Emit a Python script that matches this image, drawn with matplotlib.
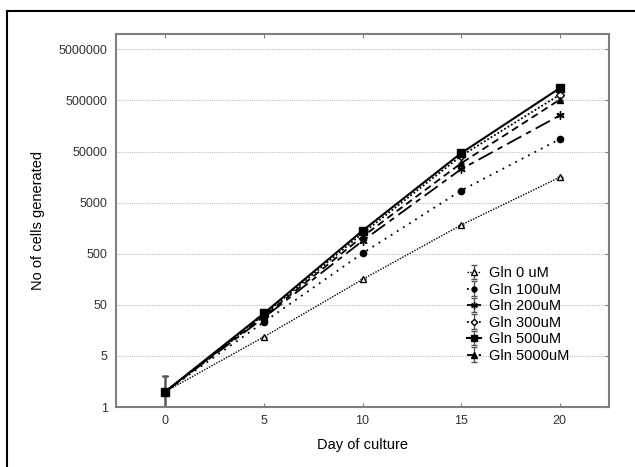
import matplotlib
matplotlib.use('Agg')
import matplotlib.pyplot as plt
import numpy as np

plt.rcParams['font.family'] = ['Liberation Sans', 'DejaVu Sans']

days = [0, 5, 10, 15, 20]
labels = ['Gln 0 uM', 'Gln 100uM', 'Gln 200uM', 'Gln 300uM', 'Gln 500uM', 'Gln 5000uM']

gln_0 = [1, 11.8, 157, 1820, 15700]
gln_100 = [1, 23, 509, 8600, 87500]
gln_200 = [1, 28, 890, 22600, 254000]
gln_300 = [1, 32, 1250, 41000, 645000]
gln_500 = [1, 34, 1409, 46500, 870000]
gln_5000 = [1, 30, 1080, 29500, 517000]

# error bars; only day 0 is visible
err_up = [1.0, 0, 0, 0, 0]
err_lo = [0.99, 0, 0, 0, 0]

ytick_vals = [0.5, 5, 50, 500, 5000, 50000, 500000, 5000000]
ytick_labels = ['1', '5', '50', '500', '5000', '50000', '500000', '5000000']

series = [gln_0, gln_100, gln_200, gln_300, gln_500, gln_5000]
styles = [
    dict(marker='^', mfc='white', ms=5, ls=(0, (1, 1)), lw=1.0),
    dict(marker='o', mfc='black', ms=4.5, ls=(0, (1, 3)), lw=1.3),
    dict(marker=(6, 2, 0), mfc='black', ms=6, ls=(0, (9, 3, 3, 3)), lw=1.3),
    dict(marker='D', mfc='white', ms=4, ls=(0, (1, 1.2)), lw=1.3),
    dict(marker='s', mfc='black', ms=6, ls='-', lw=1.5),
    dict(marker='^', mfc='black', ms=5, ls=(0, (4, 2.5)), lw=1.3),
]

fig = plt.figure(figsize=(6.35, 4.67), dpi=100)
ax = fig.add_axes([116/635, 1-407/467, (609-116)/635, (407-34)/467])

for vals, lab, st in zip(series, labels, styles):
    ax.errorbar(days, vals, yerr=[err_lo, err_up], color='black', ecolor='#555555',
                elinewidth=1, capsize=2.2, capthick=1, mec='black', label=lab, **st)

ax.set_yscale('log')
ax.set_ylim(0.5, 1e7)
ax.set_xlim(-2.5, 22.5)
ax.set_yticks(ytick_vals)
ax.set_yticklabels(ytick_labels)
ax.minorticks_off()
ax.set_xticks([0, 5, 10, 15, 20])

ax.grid(axis='y', color='#c0c0c0', ls=(0, (1, 1)), lw=0.8)
for s in ax.spines.values():
    s.set_color('#7f7f7f')
    s.set_linewidth(1.5)

ax.tick_params(axis='x', direction='in', top=True, length=3, color='#7f7f7f',
               labelsize=9, labelcolor='#333333', pad=6)
ax.tick_params(axis='y', direction='in', right=True, left=False, length=3, color='#7f7f7f',
               labelsize=9, labelcolor='#333333', pad=6)

ax.set_xlabel('Day of culture', fontsize=10.5, labelpad=8)
ax.set_ylabel('No of cells generated', fontsize=10.5, labelpad=10)

ax.legend(loc='upper left', bbox_to_anchor=(0.697, 0.397), frameon=False,
          fontsize=10.5, handlelength=1.0, handletextpad=0.5, labelspacing=0.17,
          borderpad=0, markerscale=0.8)

# outer frame
fig.add_artist(plt.Line2D([7/635, 7/635], [0, 1-11/467], color='black', lw=1.5))
fig.add_artist(plt.Line2D([7/635, 1], [1-11/467, 1-11/467], color='black', lw=1.5))

fig.savefig('out.png', dpi=100)
